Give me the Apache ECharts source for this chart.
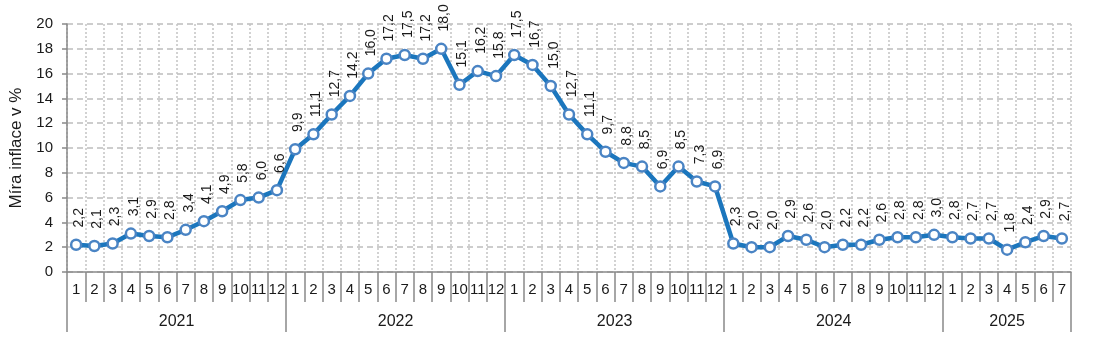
<!DOCTYPE html>
<html>
<head>
<meta charset="utf-8">
<script src="https://cdn.jsdelivr.net/npm/echarts@6/dist/echarts.min.js"></script>
<style>html,body{margin:0;padding:0;background:#fff;}#c{width:1093px;height:354px;}</style>
</head>
<body>
<div id="c"></div>
<script>
const years = ['2021', '2022', '2023', '2024', '2025'];
const monthsPerYear = [12, 12, 12, 12, 7];
const v2021 = [2.2, 2.1, 2.3, 3.1, 2.9, 2.8, 3.4, 4.1, 4.9, 5.8, 6.0, 6.6];
const v2022 = [9.9, 11.1, 12.7, 14.2, 16.0, 17.2, 17.5, 17.2, 18.0, 15.1, 16.2, 15.8];
const v2023 = [17.5, 16.7, 15.0, 12.7, 11.1, 9.7, 8.8, 8.5, 6.9, 8.5, 7.3, 6.9];
const v2024 = [2.3, 2.0, 2.0, 2.9, 2.6, 2.0, 2.2, 2.2, 2.6, 2.8, 2.8, 3.0];
const v2025 = [2.8, 2.7, 2.7, 1.8, 2.4, 2.9, 2.7];
const yTicks = [0, 2, 4, 6, 8, 10, 12, 14, 16, 18, 20];
const yName = 'Míra inflace v %';

const values = [].concat(v2021, v2022, v2023, v2024, v2025);
const monthCats = [];
monthsPerYear.forEach(n => { for (let m = 1; m <= n; m++) monthCats.push(String(m)); });

// year axis: half-month points (boundaryGap false), labels at year centres, ticks at year boundaries
const total = monthCats.length;
const yearCats = new Array(total * 2 + 1).fill('');
const yearTickIdx = new Set([0]);
const yearLabelIdx = new Set();
let start = 0;
monthsPerYear.forEach((n, i) => {
  const centre = start * 2 + n; // in half-months
  yearCats[centre] = years[i];
  yearLabelIdx.add(centre);
  start += n;
  yearTickIdx.add(start * 2);
});

const FONT = 'Liberation Sans, Arial, sans-serif';
const AXIS = '#898989';
const chart = echarts.init(document.getElementById('c'), null, {renderer: 'canvas'});
chart.setOption({
  animation: false,
  backgroundColor: '#fff',
  grid: {left: 65, right: 22, top: 24, bottom: 82, containLabel: false},
  xAxis: [
    {
      type: 'category',
      data: monthCats,
      boundaryGap: true,
      axisLine: {show: true, lineStyle: {color: AXIS, width: 1.5}},
      axisTick: {show: true, interval: 0, length: 30, lineStyle: {color: AXIS, width: 1.5}},
      axisLabel: {interval: 0, margin: 10, fontSize: 15, color: '#1a1a1a', fontFamily: FONT},
      splitLine: {show: true, interval: 0, lineStyle: {color: '#c4c4c4', width: 1.5, type: [2, 2]}}
    },
    {
      type: 'category',
      data: yearCats,
      boundaryGap: false,
      position: 'bottom',
      axisLine: {show: false},
      axisTick: {show: true, length: 60, interval: (i) => yearTickIdx.has(i), lineStyle: {color: AXIS, width: 1.5}},
      axisLabel: {interval: (i) => yearLabelIdx.has(i), margin: 42, fontSize: 16, color: '#1a1a1a', fontFamily: FONT},
      splitLine: {show: false}
    }
  ],
  yAxis: {
    type: 'value',
    min: yTicks[0],
    max: yTicks[yTicks.length - 1],
    interval: yTicks[1] - yTicks[0],
    name: yName,
    nameLocation: 'middle',
    nameGap: 42,
    nameTextStyle: {fontSize: 17, color: '#1a1a1a', fontFamily: FONT},
    axisLine: {show: true, lineStyle: {color: AXIS, width: 1.5}},
    axisTick: {show: true, length: 5, lineStyle: {color: AXIS, width: 1.5}},
    axisLabel: {margin: 14, fontSize: 15, color: '#1a1a1a', fontFamily: FONT},
    splitLine: {show: true, lineStyle: {color: '#bdbdbd', width: 1.5, type: [6, 4]}}
  },
  series: [{
    type: 'line',
    xAxisIndex: 0,
    data: values,
    symbol: 'circle',
    symbolSize: 10,
    lineStyle: {color: '#1b76bd', width: 4.5},
    itemStyle: {color: '#ffffff', borderColor: '#4a84c4', borderWidth: 2.5},
    label: {
      show: true,
      position: 'top',
      distance: 11,
      rotate: 90,
      align: 'left',
      verticalAlign: 'middle',
      offset: [0, 3],
      fontSize: 14,
      color: '#1a1a1a',
      fontFamily: FONT,
      formatter: p => p.value.toFixed(1).replace('.', ',')
    },
    z: 3
  }]
});
</script>
</body>
</html>
